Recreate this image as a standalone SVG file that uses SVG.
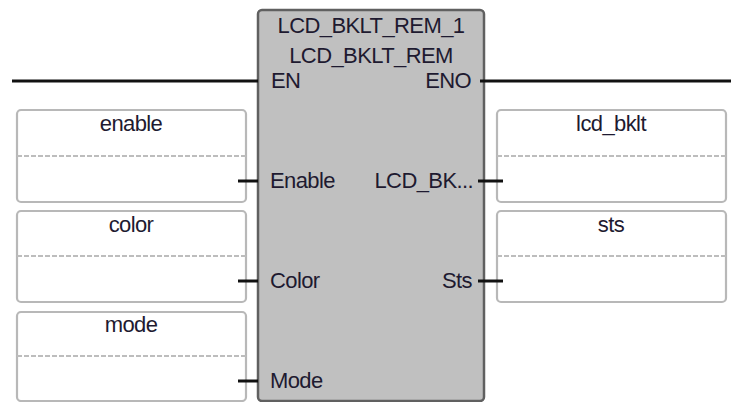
<svg xmlns="http://www.w3.org/2000/svg" width="731" height="402" viewBox="0 0 731 402">
<style>
  text { font-family: "Liberation Sans", Arial, sans-serif; font-size: 22px; letter-spacing: -0.6px; fill: #1e1a30; }
  .mid { text-anchor: middle; }
  .end { text-anchor: end; }
  .var { fill: none; stroke: #b8b8b8; stroke-width: 2.2; }
  .sep { stroke: #bdbdbd; stroke-width: 2; stroke-dasharray: 5 2; }
  .wire { stroke: #111; stroke-width: 3; fill: none; }
  .blk { fill: #c0c0c0; stroke: #606060; stroke-width: 2.5; }
</style>
<rect width="731" height="402" fill="#ffffff"/>
<g id="block">
  <rect class="blk" x="258" y="10" width="226" height="391" rx="4"/>
  <text class="mid" x="371" y="33">LCD_BKLT_REM_1</text>
  <text class="mid" x="371" y="63">LCD_BKLT_REM</text>
  <text x="271" y="88">EN</text>
  <text class="end" x="471" y="88">ENO</text>
  <text x="270" y="188">Enable</text>
  <text x="270" y="288">Color</text>
  <text x="270" y="388">Mode</text>
  <text class="end" x="473" y="188">LCD_BK...</text>
  <text class="end" x="472" y="288">Sts</text>
</g>
<g id="var_enable">
  <rect class="var" x="17" y="110" width="229" height="92" rx="4"/>
  <line class="sep" x1="17" y1="156" x2="246" y2="156"/>
  <text class="mid" x="131" y="131">enable</text>
</g>
<g id="var_color">
  <rect class="var" x="17" y="211" width="229" height="91" rx="4"/>
  <line class="sep" x1="17" y1="256" x2="246" y2="256"/>
  <text class="mid" x="131" y="232">color</text>
</g>
<g id="var_mode">
  <rect class="var" x="17" y="312" width="229" height="89" rx="4"/>
  <line class="sep" x1="17" y1="356" x2="246" y2="356"/>
  <text class="mid" x="131" y="332">mode</text>
</g>
<g id="var_lcd_bklt">
  <rect class="var" x="497" y="110" width="229" height="92" rx="4"/>
  <line class="sep" x1="497" y1="156" x2="726" y2="156"/>
  <text class="mid" x="611" y="131">lcd_bklt</text>
</g>
<g id="var_sts">
  <rect class="var" x="497" y="211" width="229" height="91" rx="4"/>
  <line class="sep" x1="497" y1="256" x2="726" y2="256"/>
  <text class="mid" x="611" y="232">sts</text>
</g>
<g id="connectors">
  <line class="wire" x1="12" y1="81" x2="258" y2="81"/>
  <line class="wire" x1="480" y1="81" x2="731" y2="81"/>
  <line class="wire" x1="238" y1="181" x2="258" y2="181"/>
  <line class="wire" x1="238" y1="281" x2="258" y2="281"/>
  <line class="wire" x1="238" y1="381" x2="258" y2="381"/>
  <line class="wire" x1="478" y1="181" x2="503" y2="181"/>
  <line class="wire" x1="478" y1="281" x2="503" y2="281"/>
</g>
</svg>
